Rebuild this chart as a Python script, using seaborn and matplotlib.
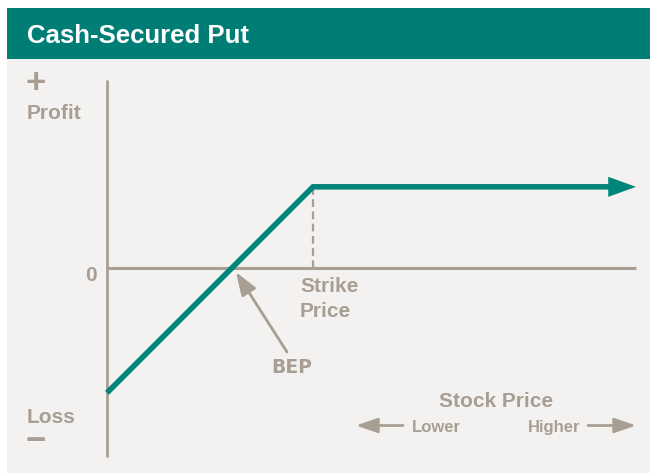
import matplotlib
matplotlib.use("Agg")
import matplotlib.pyplot as plt
import seaborn as sns
import pandas as pd
from matplotlib.patches import Rectangle

# ---- data (payoff of a cash-secured put, in chart units) ----
stock_price = [0, 50, 124]        # stock price at expiry
profit = [-30.3, 19.7, 19.7]      # profit / loss
strike = 50
bep = 30.3
max_gain = 19.7
axis_x_end = 128.4
arrow_tip_x = 128.4

title = "Cash-Secured Put"
y_top_label = "Profit"
y_bottom_label = "Loss"
x_label = "Stock Price"
x_low = "Lower"
x_high = "Higher"
strike_label = "Strike\nPrice"
bep_label = "BEP"
zero_label = "0"

TEAL = "#007e76"
LINE_TEAL = "#00857a"
GRAY = "#a89e93"
BG = "#f3f2f0"

W, H = 650, 473
sns.set_theme(style="white")
plt.rcParams["font.family"] = ["Liberation Sans", "DejaVu Sans"]

fig = plt.figure(figsize=(W / 100, H / 100), dpi=100)
fig.patch.set_facecolor("white")


def fx(x):
    return x / W


def fy(y):
    return 1 - y / H


# background panel and title bar
fig.patches.append(Rectangle((fx(7), 0), 1 - fx(7), fy(58), transform=fig.transFigure,
                             facecolor=BG, edgecolor="none", zorder=-2))
fig.patches.append(Rectangle((fx(7), fy(59)), 1 - fx(7), fy(8) - fy(59), transform=fig.transFigure,
                             facecolor=TEAL, edgecolor="none", zorder=-2))
fig.text(fx(27), fy(36), title, color="white", fontsize=18.5, fontweight="bold",
         ha="left", va="center")

# data axes, scale 4.12 px per unit, origin at pixel (107, 268)
S = 4.12
ax = fig.add_axes([0, 0, 1, 1])
ax.set_zorder(2)
ax.set_xlim(-107 / S, (W - 107) / S)
ax.set_ylim(-(H - 268) / S, 268 / S)
ax.axis("off")
ax.patch.set_alpha(0)

# axes lines
ax.plot([0, 0], [(268 - 80) / S, -(457 - 268) / S], color=GRAY, lw=2, solid_capstyle="butt", zorder=1)
ax.plot([0, axis_x_end], [0, 0], color=GRAY, lw=2.2, solid_capstyle="butt", zorder=1)

# strike dashed line
ax.plot([strike, strike], [max_gain, 0], color=GRAY, lw=1.6, ls=(0, (3.5, 2)), zorder=1)

# payoff line
df = pd.DataFrame({"price": stock_price, "profit": profit})
sns.lineplot(data=df, x="price", y="profit", ax=ax, color=LINE_TEAL, lw=4,
             sort=False, estimator=None, zorder=3)
for ln in ax.lines[-1:]:
    ln.set_solid_joinstyle("miter")
    ln.set_solid_capstyle("butt")
ax.annotate("", xy=(arrow_tip_x, max_gain), xytext=(stock_price[-1] - 4, max_gain),
            arrowprops=dict(arrowstyle="-|>,head_length=2.0,head_width=0.72",
                            mutation_scale=10, color=LINE_TEAL, lw=0, shrinkA=0, shrinkB=0),
            zorder=4)

# BEP arrow
ax.annotate("", xy=(bep + 1.0, -1.0), xytext=((287 - 107) / S, -(352 - 268) / S),
            arrowprops=dict(arrowstyle="-|>,head_length=1.4,head_width=0.5",
                            mutation_scale=10, color=GRAY, lw=2, shrinkA=0, shrinkB=0),
            zorder=2)

# labels
tk = dict(color=GRAY, fontweight="bold")
fig.text(fx(36), fy(83), "+", fontsize=25, ha="center", va="center", **tk)
fig.text(fx(27), fy(113), y_top_label, fontsize=15, ha="left", va="center", **tk)
fig.text(fx(27), fy(417), y_bottom_label, fontsize=15, ha="left", va="center", **tk)
fig.text(fx(36), fy(441), "\u2212", fontsize=25, ha="center", va="center", **tk)
fig.text(fx(91), fy(275), zero_label, fontsize=15, ha="center", va="center", **tk)
fig.text(fx(300), fy(299), strike_label, fontsize=15, ha="left", va="center",
         linespacing=1.4, **tk)
fig.text(fx(292), fy(367), bep_label, fontsize=13.5, ha="center", va="center",
         color=GRAY, fontweight="heavy", family=["DejaVu Sans"])
fig.text(fx(496), fy(401), x_label, fontsize=15, ha="center", va="center", **tk)
fig.text(fx(436), fy(427), x_low, fontsize=12, ha="center", va="center", **tk)
fig.text(fx(554), fy(427), x_high, fontsize=12, ha="center", va="center", **tk)

# stock price direction arrows
y_arr = -(425.5 - 268) / S
ax.annotate("", xy=((356 - 107) / S, y_arr), xytext=((403 - 107) / S, y_arr),
            arrowprops=dict(arrowstyle="-|>,head_length=1.3,head_width=0.45",
                            mutation_scale=10, color=GRAY, lw=2, shrinkA=0, shrinkB=0))
ax.annotate("", xy=((636 - 107) / S, y_arr), xytext=((588 - 107) / S, y_arr),
            arrowprops=dict(arrowstyle="-|>,head_length=1.3,head_width=0.45",
                            mutation_scale=10, color=GRAY, lw=2, shrinkA=0, shrinkB=0))

fig.savefig("out.png", dpi=100, facecolor=fig.get_facecolor())
